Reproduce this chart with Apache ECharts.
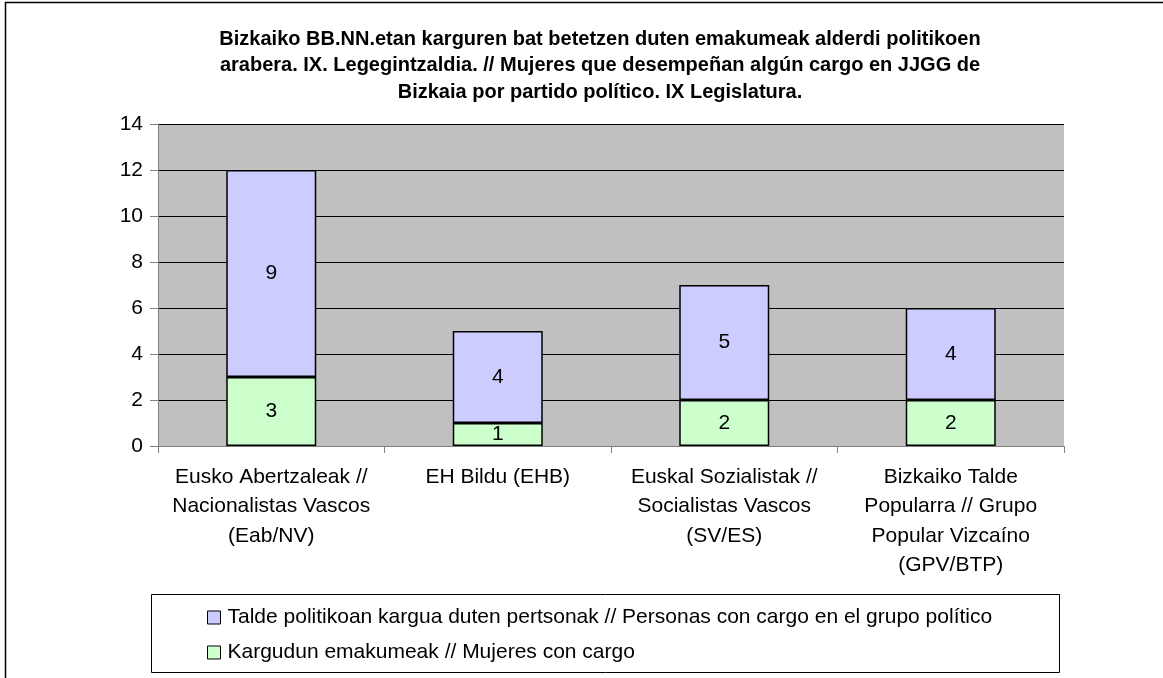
<!DOCTYPE html>
<html><head><meta charset="utf-8">
<script src="https://cdn.jsdelivr.net/npm/echarts@6/dist/echarts.min.js"></script>
<style>html,body{margin:0;padding:0;background:#fff}#c{width:1163px;height:678px}</style>
</head><body><div id="c"></div>
<script>
const categories = [
  "Eusko Abertzaleak //\nNacionalistas Vascos\n(Eab/NV)",
  "EH Bildu (EHB)",
  "Euskal Sozialistak //\nSocialistas Vascos\n(SV/ES)",
  "Bizkaiko Talde\nPopularra // Grupo\nPopular Vizcaíno\n(GPV/BTP)"
];
const womenValues = [3, 1, 2, 2];
const groupValues = [9, 4, 5, 4];
const seriesNames = [
  "Talde politikoan kargua duten pertsonak // Personas con cargo en el grupo político",
  "Kargudun emakumeak // Mujeres con cargo"
];
const titleText = "Bizkaiko BB.NN.etan karguren bat betetzen duten emakumeak alderdi politikoen\narabera. IX. Legegintzaldia. // Mujeres que desempeñan algún cargo en JJGG de\nBizkaia por partido político. IX Legislatura.";

const font = "'Liberation Sans', Arial, sans-serif";
const chart = echarts.init(document.getElementById('c'), null, {renderer: 'canvas'});
chart.setOption({
  animation: false,
  textStyle: {fontFamily: font},
  title: {
    text: titleText, left: 595, top: 21, textAlign: 'center',
    textStyle: {fontSize: 20, fontWeight: 'bold', color: '#000', lineHeight: 26.5, fontFamily: font}
  },
  graphic: [
    {type: 'rect', shape: {x: 5.5, y: 2.5, width: 1300, height: 800}, style: {fill: null, stroke: '#000', lineWidth: 1.5}, silent: true, z: 100},
    {type: 'rect', shape: {x: 151.5, y: 594.5, width: 908, height: 78}, style: {fill: null, stroke: '#000', lineWidth: 1}, silent: true, z: 100}
  ],
  grid: {left: 158, top: 124, width: 906, height: 322, backgroundColor: '#C0C0C0', show: true, borderWidth: 0},
  legend: {
    orient: 'vertical', left: 202, top: 602,
    data: seriesNames.map(n => ({name: n, icon: 'rect'})),
    itemWidth: 13, itemHeight: 13, itemGap: 14,
    textStyle: {fontSize: 21, color: '#000', fontFamily: font, padding: [0, 0, 0, 2]},
    itemStyle: {borderColor: '#000', borderWidth: 1}
  },
  xAxis: {
    type: 'category', data: categories,
    axisLine: {lineStyle: {color: '#808080', width: 1}},
    axisTick: {show: true, length: 7, lineStyle: {color: '#808080'}},
    axisLabel: {fontSize: 21, color: '#000', lineHeight: 29.5, margin: 16, interval: 0, fontFamily: font}
  },
  yAxis: {
    type: 'value', min: 0, max: 14, interval: 2,
    axisLine: {show: true, lineStyle: {color: '#808080', width: 1}},
    axisTick: {show: true, length: 8, lineStyle: {color: '#808080'}},
    splitLine: {lineStyle: {color: '#000', width: 1}},
    axisLabel: {fontSize: 21, color: '#000', margin: 15, fontFamily: font}
  },
  series: [
    {
      name: seriesNames[1], type: 'bar', stack: 's', data: womenValues, barWidth: 90,
      itemStyle: {color: '#CCFFCC', borderColor: '#000', borderWidth: 1.5},
      label: {show: true, position: 'inside', fontSize: 21, color: '#000', fontFamily: font}
    },
    {
      name: seriesNames[0], type: 'bar', stack: 's', data: groupValues, barWidth: 90,
      itemStyle: {color: '#CCCCFF', borderColor: '#000', borderWidth: 1.5},
      label: {show: true, position: 'inside', fontSize: 21, color: '#000', fontFamily: font}
    }
  ]
});
</script></body></html>
